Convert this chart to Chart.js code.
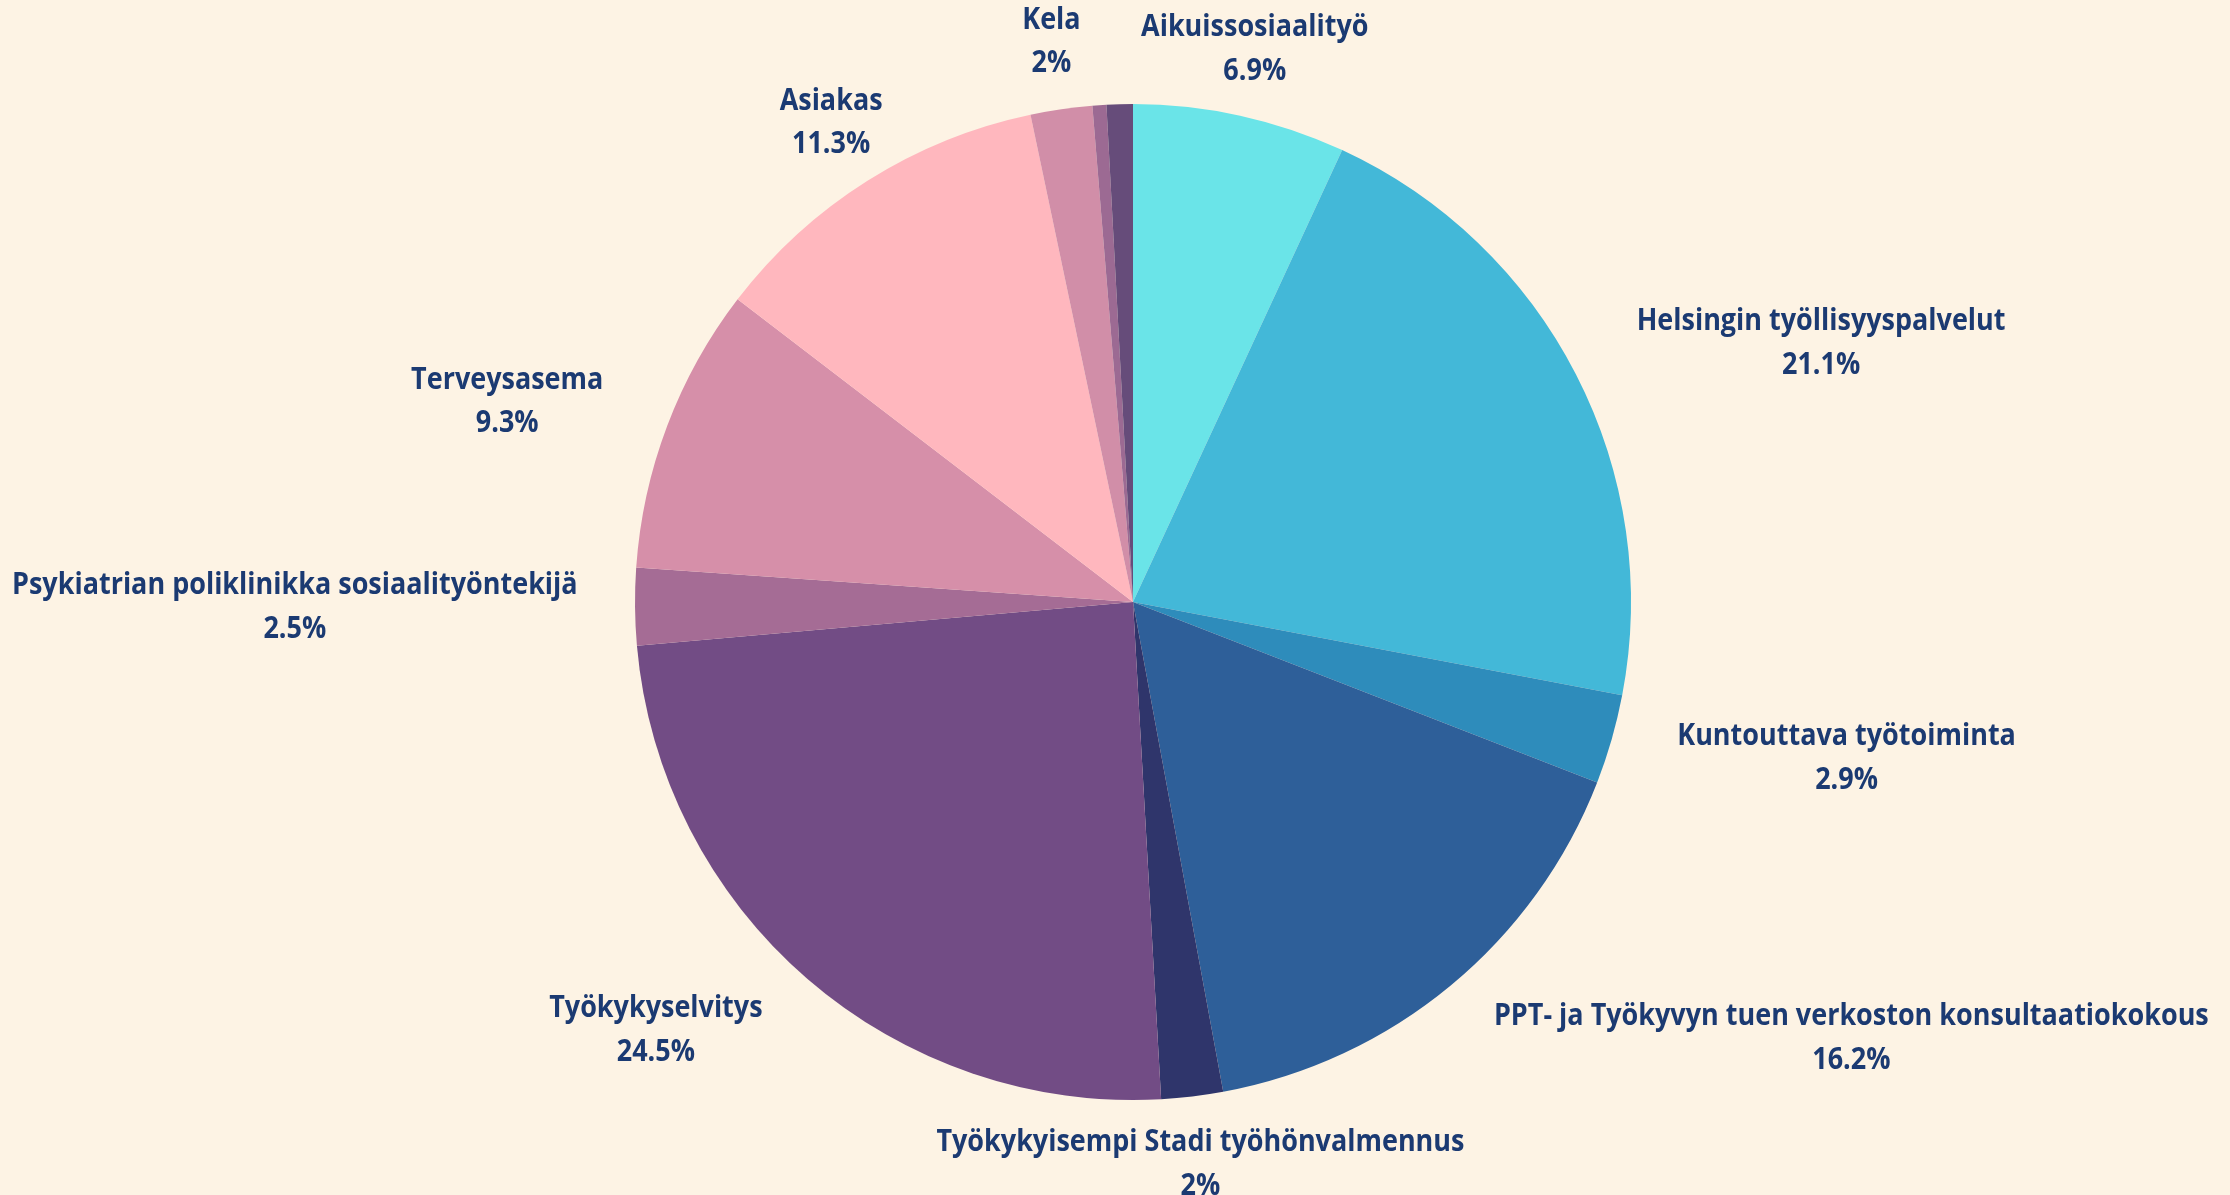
<!DOCTYPE html>
<html lang="fi">
<head>
<meta charset="utf-8">
<title>Ohjautumiskanavat</title>
<script src="https://cdn.jsdelivr.net/npm/chart.js@4.4.1/dist/chart.umd.min.js"></script>
<style>
    html, body { margin: 0; padding: 0; background: #fdf3e4; }
    #wrap { width: 2230px; height: 1195px; }
</style>
</head>
<body>
<div id="wrap"><canvas id="pie-chart" width="2230" height="1195"></canvas></div>
<script>
// Categories and shares (%), clockwise from the top
const categories = [
    'Aikuissosiaalityö',
    'Helsingin työllisyyspalvelut',
    'Kuntouttava työtoiminta',
    'PPT- ja Työkyvyn tuen verkoston konsultaatiokokous',
    'Työkykyisempi Stadi työhönvalmennus',
    'Työkykyselvitys',
    'Psykiatrian poliklinikka sosiaalityöntekijä',
    'Terveysasema',
    'Asiakas',
    'Kela',
    '',
    ''
];
const shares = [6.9, 21.1, 2.9, 16.2, 2, 24.5, 2.5, 9.3, 11.3, 2, 0.45, 0.85];
const sliceColors = [
    '#6ae4e8', '#43b8d8', '#2e8cbb', '#2e5f99', '#2f356b', '#724c85',
    '#a56c95', '#d68fa9', '#ffb7be', '#d18ea8', '#9c6a93', '#664c7a'
];

// Slices smaller than this get no label
const labelMinShare = 1.5;

// Draws "name / value%" outside each slice
const outsideLabels = {
    id: 'outsideLabels',
    afterDatasetsDraw(chart) {
        const ctx = chart.ctx;
        const meta = chart.getDatasetMeta(0);
        const W = chart.width;
        const margin = 12;
        const condense = 0.87;   // the original face is narrower than Open Sans

        ctx.save();
        ctx.font = 'bold 31px "Open Sans"';
        ctx.fillStyle = '#1b3a72';
        ctx.textBaseline = 'alphabetic';
        ctx.textAlign = 'left';

        meta.data.forEach((arc, i) => {
            const value = shares[i];
            if (value < labelMinShare || !categories[i]) return;

            const p = arc.getProps(['x', 'y', 'startAngle', 'endAngle', 'outerRadius'], true);
            const mid = (p.startAngle + p.endAngle) / 2;
            const r = p.outerRadius * 1.137;
            const ax = p.x + Math.cos(mid) * r;
            const ay = p.y + Math.sin(mid) * r;
            const h = Math.cos(mid);

            const name = categories[i];
            const tw = ctx.measureText(name).width * condense;

            // left edge of the title: centred near top/bottom, else pushed outwards
            let x0;
            if (Math.abs(h) < 0.59) {
                x0 = ax - tw / 2;
            } else if (h > 0) {
                x0 = Math.min(ax, W - margin - tw);
            } else {
                x0 = Math.max(ax - tw, margin);
            }

            ctx.fillText(name, x0, ay - 13, tw);

            const pct = value + '%';
            const pw = ctx.measureText(pct).width * condense;
            ctx.fillText(pct, x0 + tw / 2 - pw / 2, ay + 30.5, pw);
        });
        ctx.restore();
    }
};

function drawChart() {
    new Chart(document.getElementById('pie-chart'), {
        type: 'pie',
        data: {
            labels: categories,
            datasets: [{
                data: shares,
                backgroundColor: sliceColors,
                borderWidth: 0
            }]
        },
        options: {
            responsive: false,
            animation: false,
            devicePixelRatio: 1,
            layout: {
                padding: { top: 104, bottom: 95, left: 635, right: 599 }
            },
            plugins: {
                legend: { display: false },
                tooltip: { enabled: false }
            }
        },
        plugins: [outsideLabels]
    });
}

document.fonts.load('bold 31px "Open Sans"').then(drawChart, drawChart);
</script>
</body>
</html>
